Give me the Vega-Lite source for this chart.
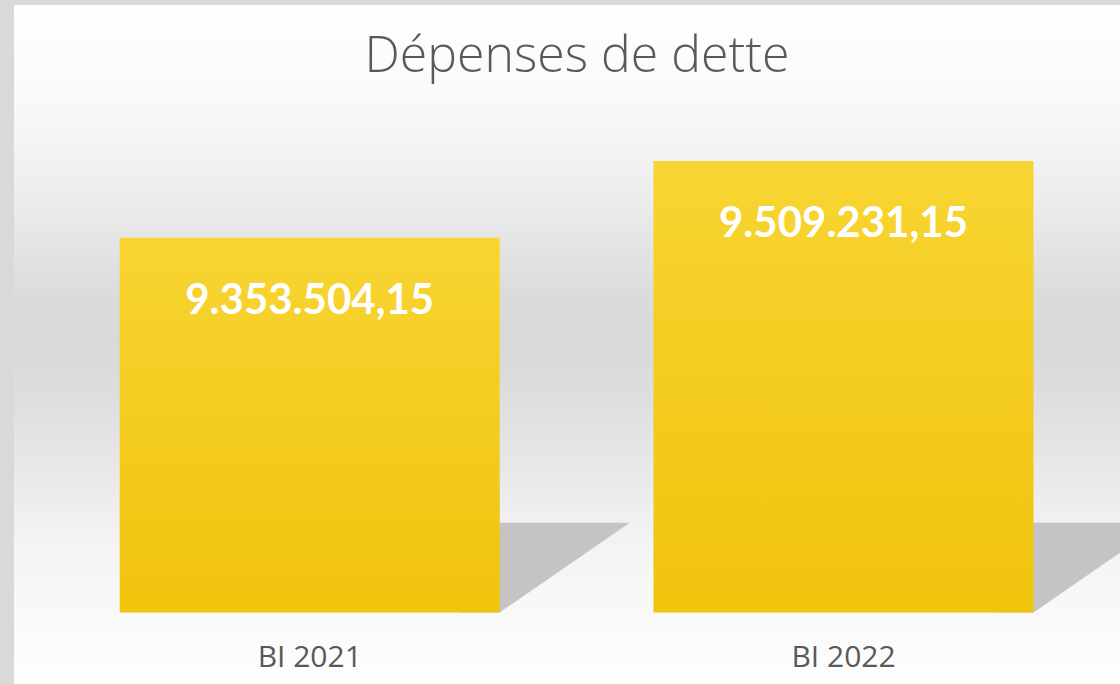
{
  "$schema": "https://vega.github.io/schema/vega-lite/v6.json",
  "width": 1120,
  "height": 684,
  "autosize": {"type": "fit", "contains": "padding"},
  "padding": {"left": 14, "top": 5, "right": 0, "bottom": 0},
  "background": "#d9d9d9",
  "view": {
    "stroke": null,
    "fill": {
      "gradient": "linear", "x1": 0, "y1": 0, "x2": 0, "y2": 1,
      "stops": [
        {"offset": 0, "color": "#ffffff"},
        {"offset": 0.14, "color": "#f9f9f9"},
        {"offset": 0.29, "color": "#ececec"},
        {"offset": 0.43, "color": "#dbdbdb"},
        {"offset": 0.5, "color": "#d9d9d9"},
        {"offset": 0.58, "color": "#dedede"},
        {"offset": 0.66, "color": "#e6e6e6"},
        {"offset": 0.8, "color": "#f4f4f4"},
        {"offset": 1, "color": "#fefefe"}
      ]
    }
  },
  "config": {
    "locale": {
      "number": {"decimal": ",", "thousands": ".", "grouping": [3], "currency": ["", " €"]}
    }
  },
  "title": {
    "text": "Dépenses de dette",
    "font": "Open Sans",
    "fontWeight": 300,
    "fontSize": 50,
    "letterSpacing": 2,
    "color": "#595959",
    "anchor": "middle",
    "baseline": "alphabetic",
    "offset": -117,
    "dx": 10
  },
  "data": {
    "values": [
      {"categorie": "BI 2021", "valeur": 9353504.15},
      {"categorie": "BI 2022", "valeur": 9509231.15}
    ]
  },
  "encoding": {
    "x": {
      "field": "categorie",
      "type": "nominal",
      "sort": null,
      "scale": {"paddingInner": 0.288, "paddingOuter": 0.18, "align": 0.55},
      "axis": {
        "title": null,
        "domain": false,
        "ticks": false,
        "tickSize": 0,
        "labelAngle": 0,
        "labelFont": "Open Sans",
        "labelFontSize": 30,
        "labelColor": "#595959",
        "labelBaseline": "alphabetic",
        "labelPadding": -18,
        "grid": false
      }
    }
  },
  "layer": [
    {
      "mark": {
        "type": "point",
        "filled": true,
        "shape": "M 0.47 -0.28 L 1 -0.28 L 0.594 0 L 0.47 0 Z",
        "size": 409600,
        "fill": "#c4c4c4",
        "opacity": 1,
        "strokeWidth": 0,
        "clip": true
      },
      "encoding": {
        "y": {"datum": 8595000, "type": "quantitative", "scale": {"domain": [8450000, 9825000], "nice": false, "zero": false}, "axis": null}
      }
    },
    {
      "mark": {
        "type": "bar",
        "color": {
          "gradient": "linear", "x1": 0, "y1": 0, "x2": 0, "y2": 1,
          "stops": [
            {"offset": 0, "color": "#f8d533"},
            {"offset": 1, "color": "#f0c30c"}
          ]
        }
      },
      "encoding": {
        "y": {"field": "valeur", "type": "quantitative", "scale": {"domain": [8450000, 9825000], "nice": false, "zero": false}, "axis": null},
        "y2": {"datum": 8595000}
      }
    },
    {
      "mark": {
        "type": "text",
        "font": "Lato",
        "fontWeight": "bold",
        "fontSize": 42,
        "color": "#ffffff",
        "baseline": "middle",
        "align": "center",
        "dy": 63
      },
      "encoding": {
        "y": {"field": "valeur", "type": "quantitative"},
        "text": {"field": "valeur", "type": "quantitative", "format": ",.2f"}
      }
    }
  ]
}
